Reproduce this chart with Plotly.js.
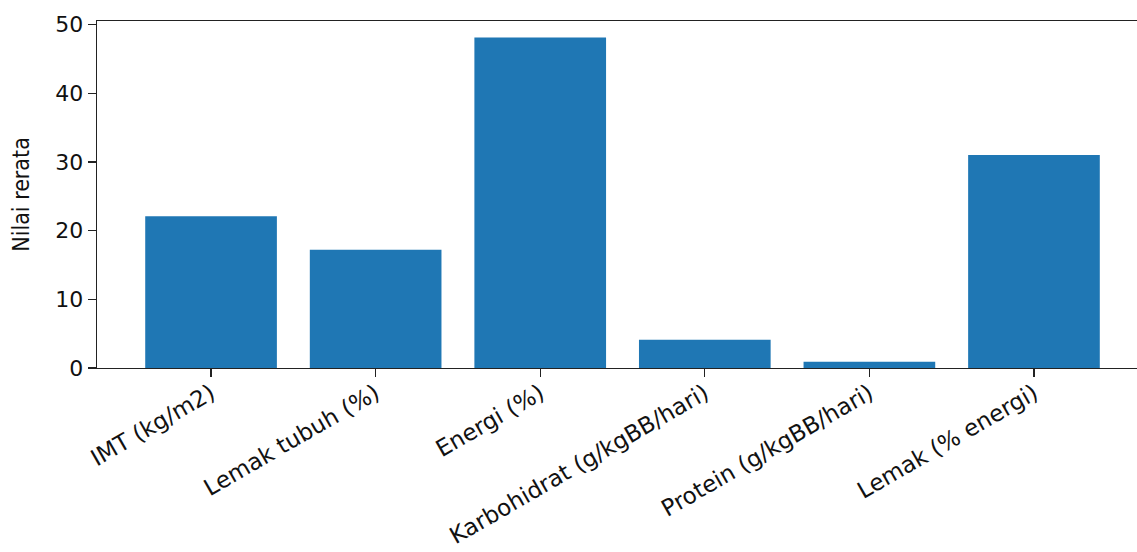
<!DOCTYPE html>
<html>
<head>
<meta charset="utf-8">
<script src="https://cdn.plot.ly/plotly-3.0.1.min.js"></script>
<style>html,body{margin:0;padding:0;background:#fff;}#chart{width:1137px;height:552px;}</style>
</head>
<body>
<div id="chart"></div>
<script>
const categories = ["IMT (kg/m2)", "Lemak tubuh (%)", "Energi (%)", "Karbohidrat (g/kgBB/hari)", "Protein (g/kgBB/hari)", "Lemak (% energi)"];
const values = [22.1, 17.2, 48.1, 4.1, 0.9, 31.0];
const yTicks = [0, 10, 20, 30, 40, 50];

const positions = categories.map((_, i) => i);

const trace = {
  type: 'bar',
  x: positions,
  y: values,
  width: 0.8,
  marker: {color: '#1f77b4', line: {width: 0}},
  hoverinfo: 'skip'
};

const layout = {
  width: 1137,
  height: 552,
  margin: {l: 97, r: 0, t: 21, b: 184, pad: 0},
  paper_bgcolor: '#fff',
  plot_bgcolor: '#fff',
  showlegend: false,
  font: {family: 'DejaVu Sans, sans-serif', size: 20, color: '#111'},
  xaxis: {
    range: [-0.693, 5.626],
    tickmode: 'array',
    tickvals: positions,
    ticktext: categories,
    tickangle: -30,
    ticks: 'outside',
    ticklen: 8,
    tickwidth: 1.3,
    tickcolor: '#222',
    ticklabelstandoff: -6,
    showline: true,
    linecolor: '#222',
    linewidth: 1.3,
    mirror: true,
    showgrid: false,
    zeroline: false,
    tickfont: {family: 'DejaVu Sans, sans-serif', size: 23, color: '#111'},
    fixedrange: true
  },
  yaxis: {
    range: [0, 50.5],
    tickmode: 'array',
    tickvals: yTicks,
    ticks: 'outside',
    ticklen: 8,
    tickwidth: 1.3,
    tickcolor: '#222',
    showline: true,
    linecolor: '#222',
    linewidth: 1.3,
    showgrid: false,
    zeroline: false,
    tickfont: {family: 'DejaVu Sans, sans-serif', size: 22, color: '#111'},
    title: {text: 'Nilai rerata', font: {family: 'DejaVu Sans Condensed, DejaVu Sans, sans-serif', size: 23, color: '#111'}, standoff: 19},
    fixedrange: true
  }
};

Plotly.newPlot('chart', [trace], layout, {displayModeBar: false, staticPlot: true});
</script>
</body>
</html>
